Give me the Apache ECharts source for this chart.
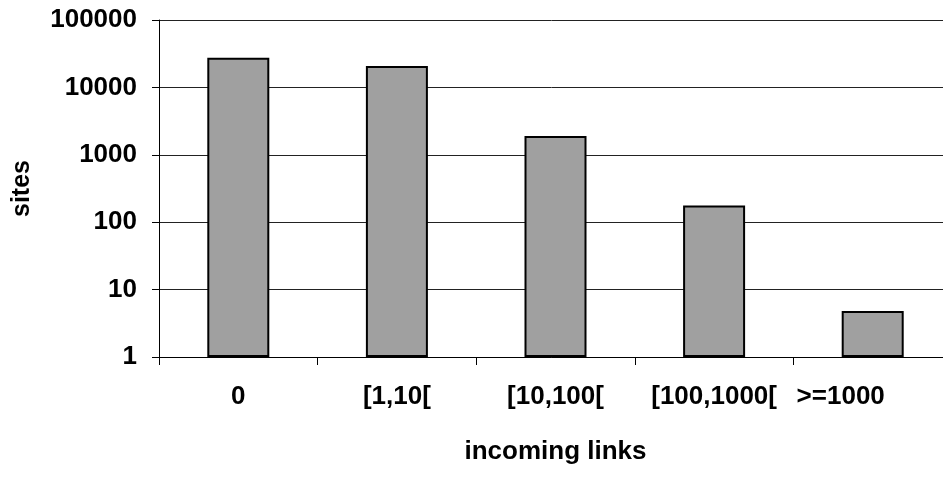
<!DOCTYPE html>
<html>
<head>
<meta charset="utf-8">
<script src="https://cdn.jsdelivr.net/npm/echarts@6/dist/echarts.min.js"></script>
<style>
  html, body { margin: 0; padding: 0; background: #fff; }
  #chart { width: 943px; height: 491px; }
</style>
</head>
<body>
<div id="chart"></div>
<script>
// Number of sites by count of incoming links (log scale)
const categories = ['0', '[1,10[', '[10,100[', '[100,1000[', '>=1000'];
const sites = [27500, 20700, 1900, 177, 4.8];

const FONT = "'Liberation Sans', Arial, sans-serif";

const chart = echarts.init(document.getElementById('chart'), null, { renderer: 'canvas' });

chart.setOption({
  animation: false,
  backgroundColor: '#ffffff',
  // plot area runs a little past the right edge of the canvas
  grid: {
    left: 159, width: 793, top: 20, height: 337,
    containLabel: false,
    outerBoundsMode: 'none'
  },
  xAxis: {
    type: 'category',
    data: categories,
    name: 'incoming links',
    nameLocation: 'middle',
    nameGap: 82,
    nameTextStyle: { fontFamily: FONT, fontWeight: 'bold', fontSize: 26, color: '#000' },
    axisLine: { lineStyle: { color: '#000', width: 1 } },
    axisTick: { show: true, length: 8, lineStyle: { color: '#000' } },
    axisLabel: {
      margin: 27,
      fontFamily: FONT,
      fontWeight: 'bold',
      fontSize: 26,
      color: '#000',
      interval: 0,
      hideOverlap: false,
      formatter: function (v, i) {
        return i === categories.length - 1 ? '{last|' + v + '}' : v;
      },
      rich: {
        last: { fontFamily: FONT, fontWeight: 'bold', fontSize: 26, color: '#000', padding: [0, 64, 0, 0] }
      }
    },
    splitLine: { show: false }
  },
  yAxis: {
    type: 'log',
    logBase: 10,
    min: 1,
    max: 100000,
    name: 'sites',
    nameLocation: 'middle',
    nameGap: 124,
    nameTextStyle: { fontFamily: FONT, fontWeight: 'bold', fontSize: 25, color: '#000' },
    axisLine: { show: true, lineStyle: { color: '#000', width: 1 } },
    axisTick: { show: true, length: 7, lineStyle: { color: '#000' } },
    axisLabel: {
      margin: 22,
      fontFamily: FONT,
      fontWeight: 'bold',
      fontSize: 26,
      color: '#000',
      formatter: function (v) { return String(Math.round(v)); }
    },
    splitLine: { show: true, lineStyle: { color: '#222', width: 1 } },
    minorTick: { show: false },
    minorSplitLine: { show: false }
  },
  series: [{
    type: 'bar',
    data: sites,
    barWidth: 62,
    itemStyle: { color: '#a0a0a0', borderColor: '#000', borderWidth: 2 }
  }]
});
</script>
</body>
</html>
